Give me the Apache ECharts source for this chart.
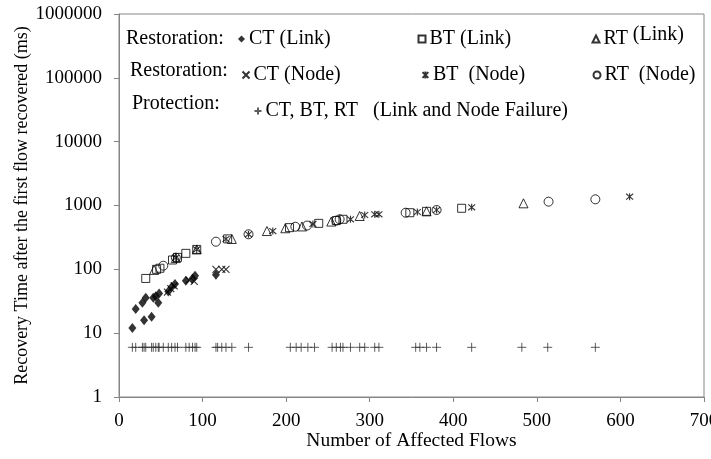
<!DOCTYPE html>
<html><head><meta charset="utf-8">
<script src="https://cdn.jsdelivr.net/npm/echarts@6/dist/echarts.min.js"></script>
<style>html,body{margin:0;padding:0;background:#fff}#c{width:711px;height:459px}</style>
</head><body><div id="c"></div><script>
// ---- data ----
const xTicks = [0, 100, 200, 300, 400, 500, 600, 700];
const yTicks = [1, 10, 100, 1000, 10000, 100000, 1000000];
const xTitle = 'Number of Affected Flows';
const yTitle = 'Recovery Time after the first flow recovered (ms)';
const seriesNames = ['CT (Link)', 'BT (Link)', 'RT (Link)', 'CT (Node)', 'BT  (Node)', 'RT  (Node)', 'CT, BT, RT   (Link and Node Failure)'];

const ctLink = [[16,12],[20,24],[28,30],[30,16],[32,36],[39,18],[41,36],[44,38],[47,30],[48,42],[59,45],[63,53],[67,59],[80,66],[88,72],[91,79],[116,82]];
const btLink = [[32,72],[45,100],[49,104],[64,140],[70,154],[80,178],[93,205],[130,300],[204,450],[239,525],[260,580],[268,608],[348,771],[368,810],[410,905]];
const rtLink = [[42,98],[68,150],[93,205],[135,299],[177,398],[199,440],[219,470],[254,560],[288,685],[368,810],[484,1082]];
const ctNode = [[58,44],[62,50],[66,55],[84,68],[90,65],[116,100],[123,100],[128,100]];
const btNode = [[68,152],[93,205],[128,299],[155,354],[184,398],[232,515],[277,608],[294,710],[306,728],[311,728],[357,790],[380,850],[422,935],[611,1373]];
const rtNode = [[53,114],[68,152],[116,271],[155,354],[211,465],[225,485],[260,580],[264,608],[343,771],[380,850],[514,1148],[570,1250]];
const protX = [16,20,28,30,32,39,41,44,47,48,53,59,63,67,70,80,84,88,91,93,116,118,123,128,135,155,205,212,218,226,234,255,260,265,268,277,288,294,306,311,355,360,368,380,422,482,513,570];
const protY = 6;

// ---- chart ----
const FONT = 'Liberation Serif';
const AX = '#868686';
const pathX = 'path://M0,0L10,10M0,10L10,0';
const pathAst = 'path://M0,0L10,10M0,10L10,0M5,-1L5,11';
const pathPlus = 'path://M5,0L5,10M0,5L10,5';

const hollow = {color: 'none', borderColor: '#000', borderWidth: 1};
const stroke = {color: 'none', borderColor: '#000', borderWidth: 1.1};

const defs = [
  {data: ctLink, symbol: 'diamond', size: [8, 10], style: {color: '#000'}},
  {data: btLink, symbol: 'rect', size: 8, style: hollow},
  {data: rtLink, symbol: 'triangle', size: 9, style: hollow},
  {data: ctNode, symbol: pathX, size: 7, style: stroke},
  {data: btNode, symbol: pathAst, size: 7, style: stroke},
  {data: rtNode, symbol: 'circle', size: 9, style: hollow},
  {data: protX.map(x => [x, protY]), symbol: pathPlus, size: 9, style: {color: 'none', borderColor: '#333', borderWidth: 1}}
];

const series = defs.map((d, i) => ({
  type: 'scatter', name: seriesNames[i], data: d.data,
  symbol: d.symbol, symbolSize: d.size, itemStyle: d.style,
  emphasis: {disabled: true}, z: 2 + i
}));

// legend placement (one legend per item, like the free-standing boxes)
const legPos = [
  [238, 29], [416, 29], [590, 25],
  [240, 65], [420, 65], [591, 65],
  [252, 101]
];
const legTxt = {fontFamily: FONT, fontSize: 20, color: '#000'};
const legends = seriesNames.map((n, i) => {
  const l = {
    data: [n], left: legPos[i][0], top: legPos[i][1], itemWidth: 7, itemHeight: 7,
    itemGap: 0, padding: 0, textStyle: Object.assign({padding: [0, 0, 0, -1]}, legTxt),
    selectedMode: false
  };
  if (i === 2) {
    l.formatter = () => '{a|RT} {b|(Link)}';
    l.textStyle.rich = {
      a: {fontFamily: FONT, fontSize: 20, color: '#000'},
      b: {fontFamily: FONT, fontSize: 20, color: '#000', padding: [0, 0, 8, 0]}
    };
  }
  return l;
});

const chart = echarts.init(document.getElementById('c'), null, {renderer: 'canvas'});
chart.setOption({
  animation: false,
  backgroundColor: '#fff',
  grid: {left: 119, right: 7, top: 14, bottom: 62, show: true, borderColor: AX, borderWidth: 1,
    backgroundColor: 'transparent', outerBoundsMode: 'none', containLabel: false},
  xAxis: {
    type: 'value', min: xTicks[0], max: xTicks[xTicks.length - 1], interval: 100,
    name: xTitle, nameLocation: 'middle', nameGap: 34, nameMoveOverlap: false,
    nameTextStyle: {fontFamily: FONT, fontSize: 19.5, color: '#000'},
    axisLine: {show: true, lineStyle: {color: AX}},
    axisTick: {show: true, inside: false, length: 5, lineStyle: {color: AX}},
    axisLabel: {fontFamily: FONT, fontSize: 19, color: '#000', margin: 15, showMaxLabel: true, hideOverlap: false},
    splitLine: {show: false}
  },
  yAxis: {
    type: 'log', logBase: 10, min: yTicks[0], max: yTicks[yTicks.length - 1],
    name: yTitle, nameLocation: 'middle', nameGap: 88, nameRotate: 90, nameMoveOverlap: false,
    nameTextStyle: {fontFamily: FONT, fontSize: 18, color: '#000'},
    axisLine: {show: true, lineStyle: {color: AX}},
    axisTick: {show: true, inside: false, length: 5, lineStyle: {color: AX}},
    axisLabel: {fontFamily: FONT, fontSize: 19, color: '#000', margin: 17,
      formatter: v => String(Math.round(v))},
    splitLine: {show: false}, minorTick: {show: false}
  },
  legend: legends,
  graphic: [
    {type: 'text', left: 126, top: 29, style: {text: 'Restoration:', font: '20px "Liberation Serif"', fill: '#000'}},
    {type: 'text', left: 130, top: 61, style: {text: 'Restoration:', font: '20px "Liberation Serif"', fill: '#000'}},
    {type: 'text', left: 132, top: 94, style: {text: 'Protection:', font: '20px "Liberation Serif"', fill: '#000'}}
  ],
  series: series
});
</script></body></html>
